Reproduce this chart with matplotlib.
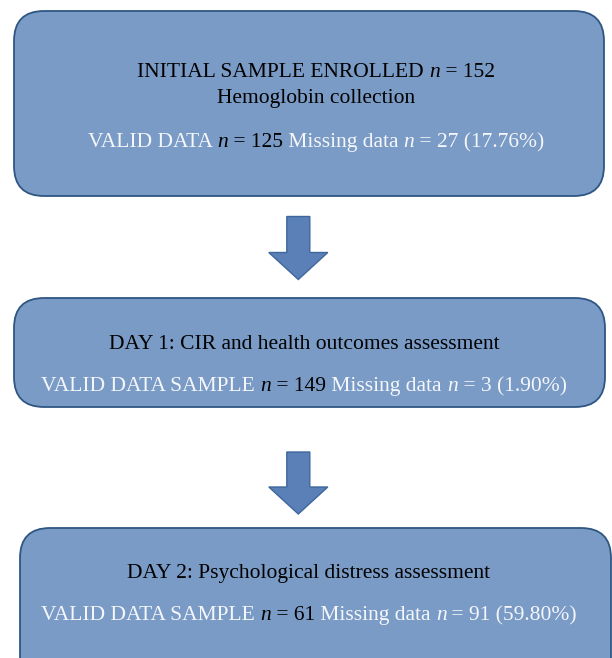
import matplotlib
matplotlib.use("Agg")
import matplotlib.pyplot as plt
from matplotlib.patches import FancyBboxPatch, FancyArrow

# flow chart content
titles = [["INITIAL SAMPLE ENROLLED ", "n", " = 152"],
          ["Hemoglobin collection"],
          ["DAY 1: CIR and health outcomes assessment"],
          ["DAY 2: Psychological distress assessment"]]
valid_labels = ["VALID DATA ", "VALID DATA SAMPLE ", "VALID DATA SAMPLE "]
valid_n = [125, 149, 61]
missing_n = [27, 3, 91]
missing_pct = ["17.76%", "1.90%", "59.80%"]

fill = "#7a9bc6"
edge = "#2f5683"
arrow_col = "#5a80b7"
white = "#f4f6fa"
FONT = ["Liberation Serif", "DejaVu Serif"]
FS = 15.5

fig = plt.figure(figsize=(6.12, 6.58), dpi=100)
ax = fig.add_axes([0, 0, 1, 1])
ax.set_xlim(0, 612)
ax.set_ylim(658, 0)
ax.axis("off")

# boxes (x, y, w, h) in pixels
boxes = [(14, 11, 590, 185), (14, 298, 591, 109), (20, 528, 591, 160)]
for (x, y, w, h) in boxes:
    ax.add_patch(FancyBboxPatch((x, y), w, h,
                                boxstyle="round,pad=0,rounding_size=30",
                                fc=fill, ec=edge, lw=1.3))

# arrows between boxes
for y0, y1 in [(216.5, 279.5), (452, 514)]:
    ax.add_patch(FancyArrow(298.3, y0, 0, y1 - y0, width=23, head_width=59,
                            head_length=27, length_includes_head=True,
                            fc=arrow_col, ec="#3f679c", lw=1))

fig.canvas.draw()
renderer = fig.canvas.get_renderer()


def seg_line(cx, base, segments):
    texts = []
    for s, col, sty in segments:
        t = ax.text(0, base, s, color=col, style=sty, fontsize=FS, family=FONT,
                    va="baseline", ha="left")
        texts.append(t)
    widths = [t.get_window_extent(renderer).width for t in texts]
    x = cx - sum(widths) / 2
    for t, w in zip(texts, widths):
        t.set_x(x)
        x += w


seg_line(316, 77, [(titles[0][0], "black", "normal"), ("n", "black", "italic"),
                   (titles[0][2], "black", "normal")])
seg_line(316, 103, [(titles[1][0], "black", "normal")])
seg_line(304, 349, [(titles[2][0], "black", "normal")])
seg_line(309, 578, [(titles[3][0], "black", "normal")])

centers = [(316, 147), (304, 391), (309, 620)]
for i, (cx, base) in enumerate(centers):
    seg_line(cx, base, [(valid_labels[i], white, "normal"),
                        ("n", "black", "italic"),
                        (" = %d" % valid_n[i], "black", "normal"),
                        (" Missing data ", white, "normal"),
                        ("n", white, "italic"),
                        (" = %d (%s)" % (missing_n[i], missing_pct[i]), white, "normal")])

fig.savefig("out.png", dpi=100)
